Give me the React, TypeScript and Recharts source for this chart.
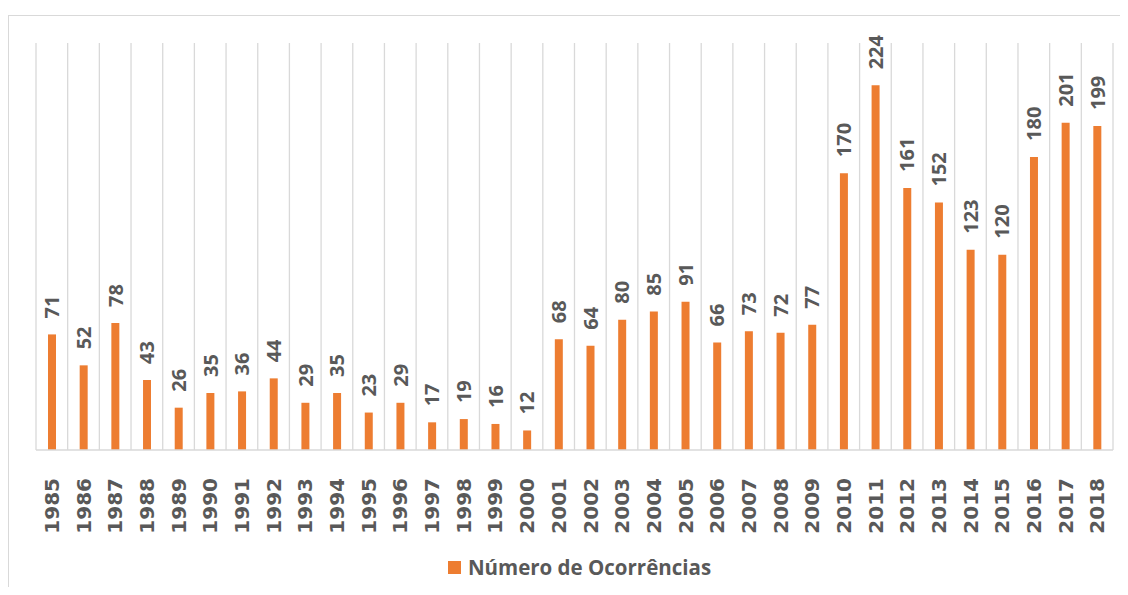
import React from "react";
import {
  BarChart,
  Bar,
  XAxis,
  YAxis,
  CartesianGrid,
  Legend,
  LabelList,
} from "recharts";

const years = [
  "1985", "1986", "1987", "1988", "1989", "1990", "1991", "1992", "1993",
  "1994", "1995", "1996", "1997", "1998", "1999", "2000", "2001", "2002",
  "2003", "2004", "2005", "2006", "2007", "2008", "2009", "2010", "2011",
  "2012", "2013", "2014", "2015", "2016", "2017", "2018",
];

const occurrences = [
  71, 52, 78, 43, 26, 35, 36, 44, 29, 35, 23, 29, 17, 19, 16, 12, 68, 64,
  80, 85, 91, 66, 73, 72, 77, 170, 224, 161, 152, 123, 120, 180, 201, 199,
];

const seriesName = "Número de Ocorrências";

const chartData = years.map((year, i) => ({ year, value: occurrences[i] }));

const ORANGE = "#ED7D31";
const TEXT = "#595959";
const GRID = "#d9d9d9";

// rotated year labels under the axis
const renderYearTick = (props: any) => {
  const { x, y, payload } = props;
  const ty = y + 20;
  return (
    <text
      x={x}
      y={ty}
      dy="0.36em"
      transform={`rotate(-90, ${x}, ${ty})`}
      textAnchor="end"
      fontFamily="DejaVu Sans"
      fontWeight="bold"
      fontSize={20}
      fill={TEXT}
    >
      {payload.value}
    </text>
  );
};

// rotated value label above each bar
const renderValueLabel = (props: any) => {
  const { x, y, width, value } = props;
  const cx = x + width / 2;
  const ty = y - 16;
  return (
    <text
      x={cx}
      y={ty}
      dy="0.36em"
      transform={`rotate(-90, ${cx}, ${ty})`}
      textAnchor="start"
      fontFamily="Open Sans"
      fontWeight={700}
      fontSize={20}
      fill={TEXT}
    >
      {value}
    </text>
  );
};

export default function App() {
  return (
    <div style={{ width: 1120, height: 579, overflow: "hidden", paddingTop: 7, boxSizing: "border-box" }}>
      <div
        style={{
          width: 1140,
          height: 600,
          border: `1px solid ${GRID}`,
          boxSizing: "border-box",
        }}
      >
        <BarChart
          width={1120}
          height={580}
          data={chartData}
          barSize={8}
          margin={{ top: 27, right: 16, left: 27, bottom: 0 }}
        >
          <CartesianGrid
            horizontal={false}
            stroke={GRID}
            strokeWidth={1.3}
            verticalCoordinatesGenerator={({ offset }: any) =>
              Array.from({ length: years.length + 1 }, (_, i) => offset.left + (i * offset.width) / years.length)
            }
          />
          <XAxis
            dataKey="year"
            interval={0}
            height={80}
            tickLine={false}
            axisLine={{ stroke: GRID, strokeWidth: 1.3 }}
            tick={renderYearTick}
          />
          <YAxis hide domain={[0, 250]} />
          <Legend
            verticalAlign="bottom"
            height={66}
            content={() => (
              <div
                style={{
                  display: "flex",
                  alignItems: "center",
                  justifyContent: "center",
                  height: 66,
                  paddingTop: 8,
                  paddingLeft: 10,
                  boxSizing: "border-box",
                }}
              >
                <span
                  style={{
                    display: "inline-block",
                    width: 13,
                    height: 13,
                    backgroundColor: ORANGE,
                    marginRight: 7,
                  }}
                ></span>
                <span
                  style={{
                    fontFamily: "Open Sans",
                    fontWeight: 700,
                    fontSize: 20.5,
                    color: TEXT,
                  }}
                >
                  {seriesName}
                </span>
              </div>
            )}
          />
          <Bar dataKey="value" name={seriesName} fill={ORANGE} isAnimationActive={false}>
            <LabelList dataKey="value" content={renderValueLabel} />
          </Bar>
        </BarChart>
      </div>
    </div>
  );
}
